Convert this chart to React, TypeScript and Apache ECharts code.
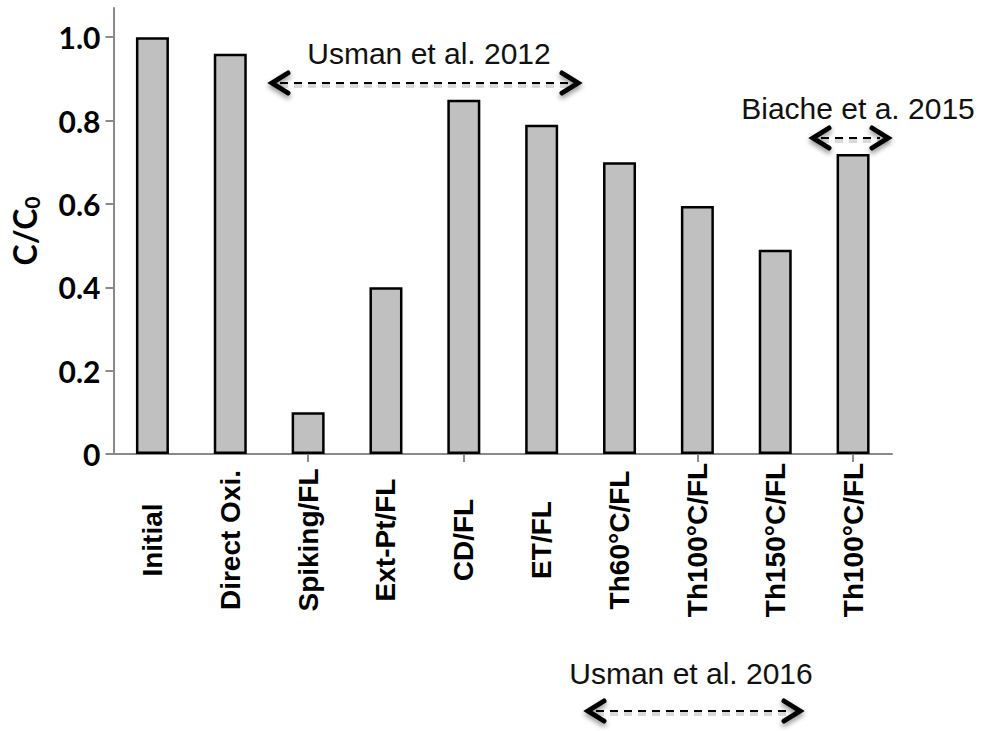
import React, { useEffect, useRef } from "react";
import * as echarts from "echarts";

const categories = [
  "Initial",
  "Direct Oxi.",
  "Spiking/FL",
  "Ext-Pt/FL",
  "CD/FL",
  "ET/FL",
  "Th60°C/FL",
  "Th100°C/FL",
  "Th150°C/FL",
  "Th100°C/FL",
];
const values = [1.0, 0.96, 0.1, 0.4, 0.85, 0.79, 0.7, 0.595, 0.49, 0.72];
const yTicks = [0, 0.2, 0.4, 0.6, 0.8, 1.0];
const annotations = [
  { text: "Usman et al. 2012", tx: 429, ty: 53, x1: 272, x2: 578, y: 83 },
  { text: "Biache et a. 2015", tx: 858, ty: 108, x1: 813, x2: 888, y: 138 },
  { text: "Usman et al. 2016", tx: 691, ty: 673, x1: 588, x2: 800, y: 711 },
];

function arrow(x1: number, x2: number, y: number) {
  const head = {
    stroke: "#000",
    lineWidth: 5,
    fill: "none",
    lineCap: "round",
    lineJoin: "miter",
    shadowBlur: 5,
    shadowColor: "rgba(0,0,0,0.45)",
    shadowOffsetY: 3,
  };
  return {
    type: "group",
    children: [
      {
        type: "line",
        shape: { x1: x1 + 8, y1: y + 3, x2: x2 - 8, y2: y + 3 },
        style: { stroke: "rgba(0,0,0,0.15)", lineWidth: 4, lineDash: [8, 6] },
      },
      {
        type: "line",
        shape: { x1: x1 + 8, y1: y, x2: x2 - 8, y2: y },
        style: { stroke: "#000", lineWidth: 2.2, lineDash: [8, 6] },
      },
      {
        type: "polyline",
        shape: { points: [[x1 + 16, y - 10], [x1, y], [x1 + 16, y + 10]] },
        style: head,
      },
      {
        type: "polyline",
        shape: { points: [[x2 - 16, y - 10], [x2, y], [x2 - 16, y + 10]] },
        style: head,
      },
    ],
  };
}

export default function App() {
  const ref = useRef<HTMLDivElement>(null);
  useEffect(() => {
    document.body.style.margin = "0";
    const chart = echarts.init(ref.current!, null, { renderer: "svg" });
    const graphics: any[] = [];
    annotations.forEach((a) => {
      graphics.push({
        type: "text",
        x: a.tx,
        y: a.ty,
        style: {
          text: a.text,
          fontFamily: "Liberation Sans, Arial, sans-serif",
          fontSize: 30,
          fill: "#111",
          textAlign: "center",
          textVerticalAlign: "middle",
        },
      });
      graphics.push(arrow(a.x1, a.x2, a.y));
    });
    chart.setOption({
      animation: false,
      backgroundColor: "#fff",
      grid: { left: 110, top: 8, width: 782, height: 446 },
      xAxis: {
        type: "category",
        data: categories,
        axisLine: { lineStyle: { color: "#8a8a8a", width: 2 } },
        axisTick: {
          show: true,
          alignWithLabel: true,
          length: 8,
          interval: (i: number) => [2, 4, 7, 9].includes(i),
          lineStyle: { color: "#8a8a8a", width: 2 },
        },
        axisLabel: {
          rotate: 90,
          align: "center",
          verticalAlign: "middle",
          margin: 86,
          interval: 0,
          fontFamily: "Liberation Sans, Arial, sans-serif",
          fontWeight: "bold",
          fontSize: 28,
          color: "#000",
        },
      },
      yAxis: {
        type: "value",
        min: 0,
        max: 1.07,
        interval: 0.2,
        name: "C/C{sub|0}",
        nameLocation: "middle",
        nameRotate: 90,
        nameGap: 72,
        nameTextStyle: {
          fontFamily: "Lato, Open Sans, sans-serif",
          fontWeight: "bold",
          fontSize: 32,
          color: "#000",
          rich: {
            sub: {
              fontFamily: "Lato, Open Sans, sans-serif",
              fontWeight: "bold",
              fontSize: 21,
              color: "#000",
              padding: [14, 0, 0, 0],
            },
          },
        },
        splitLine: { show: false },
        axisLine: { show: true, lineStyle: { color: "#8a8a8a", width: 2 } },
        axisTick: {
          show: true,
          length: 8,
          customValues: yTicks,
          lineStyle: { color: "#8a8a8a", width: 2 },
        },
        axisLabel: {
          customValues: yTicks,
          margin: 13,
          fontFamily: "Lato, Open Sans, sans-serif",
          fontWeight: "bold",
          fontSize: 30,
          color: "#000",
          formatter: (v: number) => (v === 0 ? "0" : v.toFixed(1)),
        },
      },
      series: [
        {
          type: "bar",
          data: values,
          barWidth: 33,
          itemStyle: { color: "#c0c0c0", borderColor: "#000", borderWidth: 2.5 },
        },
      ],
      graphic: graphics,
    });
    return () => chart.dispose();
  }, []);
  return <div ref={ref} style={{ width: 988, height: 731 }} />;
}
